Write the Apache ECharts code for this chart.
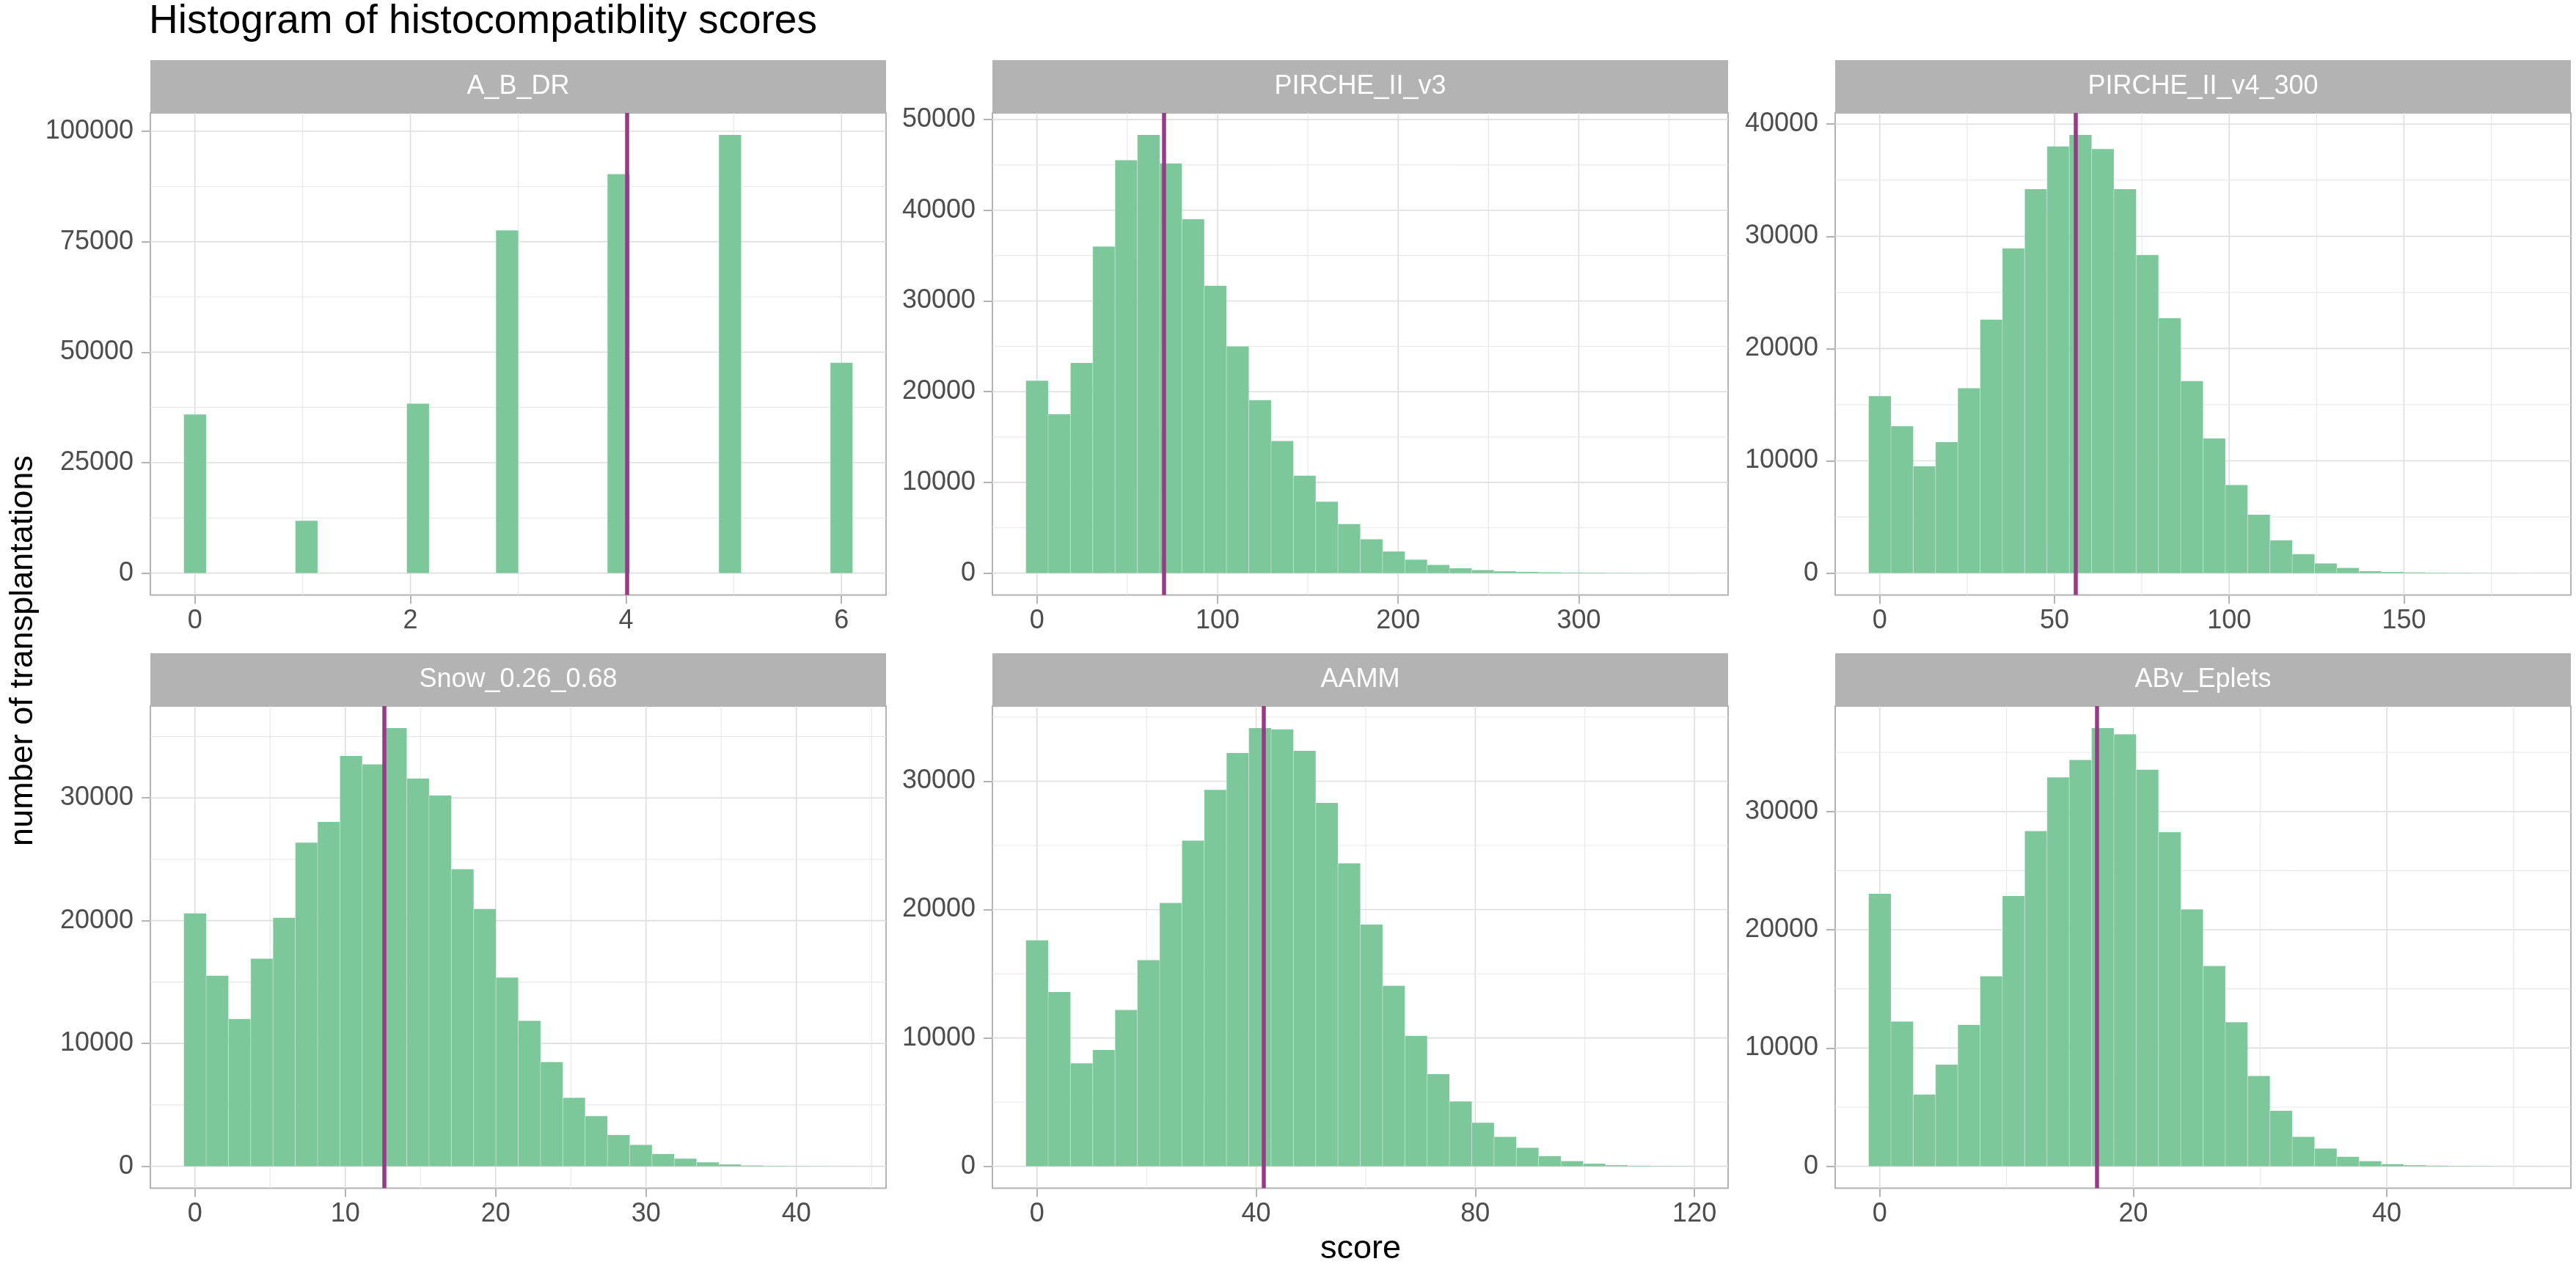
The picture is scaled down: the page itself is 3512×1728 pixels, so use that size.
<!DOCTYPE html>
<html>
<head>
    <meta charset="utf-8">
    <title>Histogram of histocompatiblity scores</title>
    <script src="https://cdn.jsdelivr.net/npm/echarts@6/dist/echarts.min.js"></script>
    <style>
        html, body {
            margin: 0;
            padding: 0;
            background: #ffffff;
        }
        #main {
            width: 3512px;
            height: 1728px;
        }
    </style>
</head>
<body>
<div id="main"></div>
<script>
    // facet labels, in plot order
    var panelNames = ['A_B_DR', 'PIRCHE_II_v3', 'PIRCHE_II_v4_300', 'Snow_0.26_0.68', 'AAMM', 'ABv_Eplets'];

    // counts per bin, 30 equal bins, first bin centred on 0
    var countsABDR = [35900, 0, 0, 0, 0, 11860, 0, 0, 0, 0, 38370, 0, 0, 0, 77560,
        0, 0, 0, 0, 90300, 0, 0, 0, 0, 99190, 0, 0, 0, 0, 47600];
    var countsPircheV3 = [21210, 17510, 23170, 36010, 45530, 48320, 45160, 39010, 31670, 24980,
        19070, 14560, 10750, 7880, 5410, 3730, 2380, 1480, 900, 530,
        330, 200, 130, 90, 60, 40, 25, 15, 10, 5];
    var countsPircheV4 = [15770, 13090, 9510, 11670, 16470, 22570, 28930, 34200, 38010, 39040,
        37780, 34200, 28330, 22700, 17100, 12000, 7850, 5200, 2920, 1690,
        860, 460, 170, 100, 60, 35, 20, 10, 5, 3];
    var countsSnow = [20590, 15510, 11990, 16900, 20240, 26350, 28040, 33410, 32730, 35690,
        31580, 30190, 24190, 20950, 15360, 11850, 8480, 5580, 4080, 2540,
        1740, 1000, 620, 320, 150, 60, 30, 15, 8, 3];
    var countsAAMM = [17610, 13580, 8020, 9060, 12170, 16060, 20520, 25370, 29330, 32200,
        34150, 34050, 32370, 28310, 23600, 18830, 14060, 10160, 7170, 5050,
        3390, 2290, 1440, 790, 400, 200, 85, 40, 20, 10];
    var countsABv = [23040, 12240, 6070, 8590, 11960, 16070, 22850, 28340, 32880, 34360,
        37060, 36530, 33530, 28250, 21720, 16930, 12180, 7640, 4690, 2480,
        1500, 800, 430, 180, 90, 50, 25, 12, 6, 3];

    // centre of the last bin (= max score) per panel
    var lastBinCentre = [6, 358, 185, 43, 118, 51];
    // mean score, drawn as vertical line
    var meanScores = [4.01, 70.2, 56.0, 12.6, 41.3, 17.1];

    var xTicks = [
        [0, 2, 4, 6],
        [0, 100, 200, 300],
        [0, 50, 100, 150],
        [0, 10, 20, 30, 40],
        [0, 40, 80, 120],
        [0, 20, 40]
    ];
    var yTicks = [
        [0, 25000, 50000, 75000, 100000],
        [0, 10000, 20000, 30000, 40000, 50000],
        [0, 10000, 20000, 30000, 40000],
        [0, 10000, 20000, 30000],
        [0, 10000, 20000, 30000],
        [0, 10000, 20000, 30000]
    ];

    (function () {
        var allCounts = [countsABDR, countsPircheV3, countsPircheV4, countsSnow, countsAAMM, countsABv];

        // layout (px)
        var colLeft = [205, 1353, 2502];
        var rowTop = [154, 963];
        var panelW = 1003, panelH = 657.5, stripH = 72;

        var FONT = '"Liberation Sans", Arial, Helvetica, sans-serif';
        var GREY70 = '#B3B3B3';
        var BAR = '#7DC89B';
        var MEAN = '#973B88';

        function minorOf(major, lo, hi) {
            var step = major[1] - major[0];
            var out = [];
            for (var v = major[0] - step / 2; v <= major[major.length - 1] + step / 2 + 1e-9; v += step) {
                if (v > lo && v < hi) out.push(v);
            }
            return out;
        }

        function plainNum(v) {
            return String(v);
        }

        var grids = [], xAxes = [], yAxes = [], series = [], graphics = [];

        for (var i = 0; i < 6; i++) {
            var counts = allCounts[i];
            var n = counts.length;
            var bw = lastBinCentre[i] / (n - 1);
            var panelLeft = colLeft[i % 3];
            var panelTop = rowTop[Math.floor(i / 3)];

            // ggplot-like 5% expansion
            var xlo = -bw / 2, xhi = lastBinCentre[i] + bw / 2;
            var xpad = (xhi - xlo) * 0.05;
            var ymax = Math.max.apply(null, counts);
            var xmin = xlo - xpad, xmax = xhi + xpad;
            var yminA = -ymax * 0.05, ymaxA = ymax * 1.05;

            grids.push({
                left: panelLeft, top: panelTop, width: panelW, height: panelH,
                show: true, borderColor: GREY70, borderWidth: 2, backgroundColor: 'transparent'
            });

            xAxes.push({
                gridIndex: i, type: 'value', min: xmin, max: xmax,
                axisLine: {show: false, onZero: false},
                splitLine: {show: false},
                axisTick: {show: true, customValues: xTicks[i], length: 12, lineStyle: {color: GREY70, width: 2}},
                axisLabel: {
                    customValues: xTicks[i], margin: 18, formatter: plainNum,
                    color: '#4D4D4D', fontSize: 36, fontFamily: FONT
                }
            });
            yAxes.push({
                gridIndex: i, type: 'value', min: yminA, max: ymaxA,
                axisLine: {show: false, onZero: false},
                splitLine: {show: false},
                axisTick: {show: true, customValues: yTicks[i], length: 12, lineStyle: {color: GREY70, width: 2}},
                axisLabel: {
                    customValues: yTicks[i], margin: 23, formatter: plainNum,
                    color: '#4D4D4D', fontSize: 36, fontFamily: FONT
                }
            });

            // grid lines: [value, isY, isMajor]
            var gl = [];
            xTicks[i].forEach(function (v) { gl.push([v, 0, 1]); });
            minorOf(xTicks[i], xmin, xmax).forEach(function (v) { gl.push([v, 0, 0]); });
            yTicks[i].forEach(function (v) { gl.push([v, 1, 1]); });
            minorOf(yTicks[i], yminA, ymaxA).forEach(function (v) { gl.push([v, 1, 0]); });

            series.push({
                type: 'custom', xAxisIndex: i, yAxisIndex: i, z: 1, silent: true,
                data: gl,
                encode: {x: 0, y: 1},
                renderItem: function (params, api) {
                    var cs = params.coordSys;
                    var v = api.value(0), isY = api.value(1), major = api.value(2);
                    var shape;
                    if (isY) {
                        var py = api.coord([0, v])[1];
                        shape = {x1: cs.x, y1: py, x2: cs.x + cs.width, y2: py};
                    } else {
                        var px = api.coord([v, 0])[0];
                        shape = {x1: px, y1: cs.y, x2: px, y2: cs.y + cs.height};
                    }
                    return {
                        type: 'line', shape: shape,
                        style: {stroke: major ? '#DEDEDE' : '#E6E6E6', lineWidth: major ? 1.6 : 1}
                    };
                }
            });

            var barData = counts.map(function (c, k) { return [k * bw, c]; });
            series.push({
                type: 'custom', xAxisIndex: i, yAxisIndex: i, z: 2, silent: true,
                data: barData,
                encode: {x: 0, y: 1},
                renderItem: (function (bw) {
                    return function (params, api) {
                        var c = api.value(0), v = api.value(1);
                        if (!v) return null;
                        var p0 = api.coord([c - bw / 2, 0]);
                        var p1 = api.coord([c + bw / 2, v]);
                        return {
                            type: 'group',
                            children: [{
                                type: 'rect',
                                shape: {x: p0[0], y: p1[1], width: p1[0] - p0[0], height: p0[1] - p1[1]},
                                style: {fill: BAR}
                            }, {
                                type: 'line',
                                shape: {x1: p0[0], y1: p1[1], x2: p0[0], y2: p0[1]},
                                style: {stroke: 'rgba(255,255,255,0.35)', lineWidth: 1}
                            }]
                        };
                    };
                })(bw),
                markLine: {
                    silent: true,
                    symbol: 'none',
                    label: {show: false},
                    lineStyle: {color: MEAN, width: 5.5, type: 'solid'},
                    emphasis: {disabled: true},
                    animation: false,
                    data: [{xAxis: meanScores[i]}]
                }
            });

            // facet strip
            graphics.push({
                type: 'rect', shape: {x: panelLeft, y: panelTop - stripH, width: panelW, height: stripH},
                style: {fill: GREY70}, silent: true
            });
            graphics.push({
                type: 'text', x: panelLeft + panelW / 2, y: panelTop - stripH / 2, silent: true,
                style: {text: panelNames[i], fill: '#FFFFFF', font: '36px ' + FONT, align: 'center', verticalAlign: 'middle'}
            });
        }

        graphics.push({
            type: 'text', x: 203, y: 30, silent: true,
            style: {text: 'Histogram of histocompatiblity scores', fill: '#000000', font: '55px ' + FONT,
                align: 'left', verticalAlign: 'middle'}
        });
        graphics.push({
            type: 'text', x: 32, y: 887.5, rotation: Math.PI / 2, silent: true,
            style: {text: 'number of transplantations', fill: '#000000', font: '45px ' + FONT,
                align: 'center', verticalAlign: 'middle'}
        });
        graphics.push({
            type: 'text', x: 1855, y: 1704, silent: true,
            style: {text: 'score', fill: '#000000', font: '45px ' + FONT, align: 'center', verticalAlign: 'middle'}
        });

        var myChart = echarts.init(document.getElementById('main'));
        myChart.setOption({
            animation: false,
            backgroundColor: '#ffffff',
            grid: grids,
            xAxis: xAxes,
            yAxis: yAxes,
            series: series,
            graphic: graphics
        });
    })();
</script>
</body>
</html>
